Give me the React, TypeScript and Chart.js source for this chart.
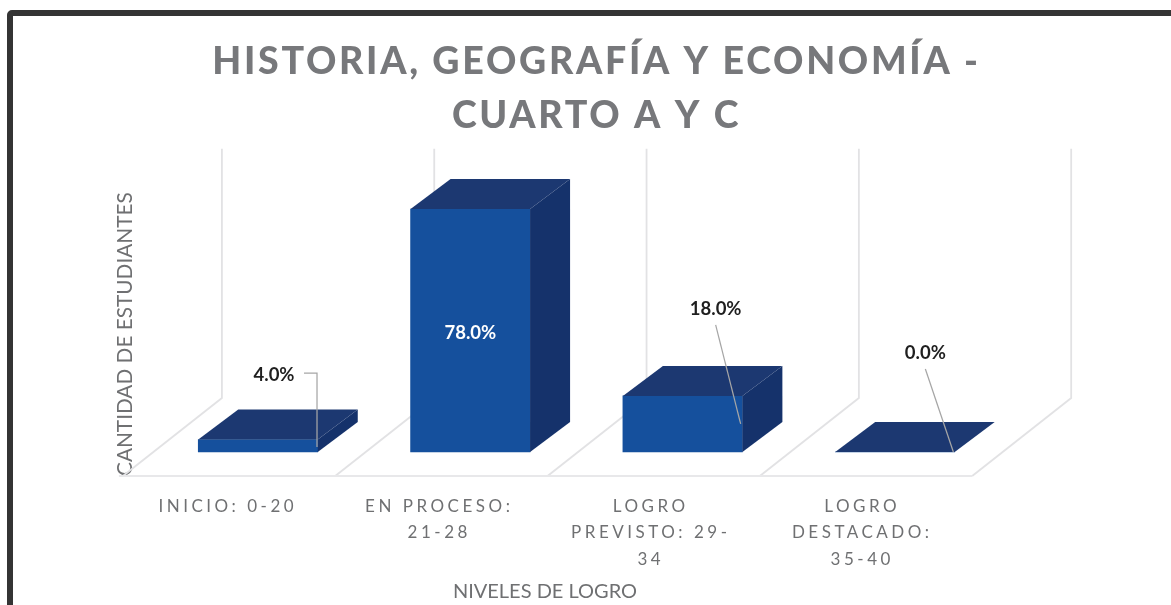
import React, { useEffect, useRef } from "react";
import { Chart, registerables } from "chart.js";

Chart.register(...registerables);

const titleLines = ["HISTORIA, GEOGRAFÍA Y ECONOMÍA -", "CUARTO A Y C"];
const categoryLabels: (string | string[])[] = [
  "INICIO: 0-20",
  ["EN PROCESO:", "21-28"],
  ["LOGRO", "PREVISTO: 29-", "34"],
  ["LOGRO", "DESTACADO:", "35-40"],
];
const percentages = [4.0, 78.0, 18.0, 0.0];
const xAxisTitle = "NIVELES DE LOGRO";
const yAxisTitle = "CANTIDAD DE ESTUDIANTES";

const DEPTH_X = 40;
const DEPTH_Y = 30;
const FONT = "Lato, Carlito, sans-serif";

// 3D look: top and side faces, walls and floor, all derived from the scales.
const threeD = {
  id: "threeD",
  beforeDraw(chart: any) {
    const { ctx } = chart;
    if (!chart.$spaced) {
      chart.$spaced = true;
      const spaced = (obj: any, key: string, px: string) => {
        const orig = obj[key];
        obj[key] = function (...a: any[]) {
          ctx.letterSpacing = px;
          orig.apply(this, a);
          ctx.letterSpacing = "0px";
        };
      };
      spaced(chart.titleBlock, "draw", "2.7px");
      spaced(chart.scales.x, "drawLabels", "3.5px");
    }
    ctx.save();
    ctx.fillStyle = "#ffffff";
    ctx.fillRect(0, 0, chart.width, chart.height);
    ctx.strokeStyle = "#343434";
    ctx.lineWidth = 6;
    ctx.beginPath();
    ctx.roundRect(10, 13, 1500, 1000, 2);
    ctx.stroke();
    ctx.restore();
  },
  beforeDatasetsDraw(chart: any) {
    const { ctx, scales } = chart;
    const bandX = scales.x2;
    const y = scales.y;
    const zeroY = y.getPixelForValue(0);
    const backY = zeroY - 54;
    const frontY = zeroY + 24;
    const topY = y.getPixelForValue(80) - 54;
    const floorDX = 99;
    ctx.save();
    ctx.lineWidth = 1.8;
    for (let i = 0; i <= categoryLabels.length; i++) {
      const wx = bandX.getPixelForValue(i - 0.17);
      ctx.strokeStyle = "#e2e2e4";
      ctx.beginPath();
      ctx.moveTo(wx, topY);
      ctx.lineTo(wx, backY);
      ctx.lineTo(wx - floorDX, frontY);
      ctx.stroke();
    }
    ctx.strokeStyle = "#e8e8ea";
    ctx.beginPath();
    ctx.moveTo(bandX.getPixelForValue(-0.17) - floorDX - 4, frontY);
    ctx.lineTo(bandX.getPixelForValue(categoryLabels.length - 0.17) - floorDX, frontY);
    ctx.stroke();
    ctx.restore();
  },
  afterDatasetsDraw(chart: any) {
    const { ctx } = chart;
    const bars = chart.getDatasetMeta(0).data;
    ctx.save();
    bars.forEach((b: any) => {
      const l = b.x - b.width / 2;
      const r = b.x + b.width / 2;
      ctx.fillStyle = "#15326b";
      ctx.beginPath();
      ctx.moveTo(r, b.y);
      ctx.lineTo(r + DEPTH_X, b.y - DEPTH_Y);
      ctx.lineTo(r + DEPTH_X, b.base - DEPTH_Y);
      ctx.lineTo(r, b.base);
      ctx.closePath();
      ctx.fill();
      ctx.fillStyle = "#1c3871";
      ctx.beginPath();
      ctx.moveTo(l, b.y);
      ctx.lineTo(l + DEPTH_X, b.y - DEPTH_Y);
      ctx.lineTo(r + DEPTH_X, b.y - DEPTH_Y);
      ctx.lineTo(r, b.y);
      ctx.closePath();
      ctx.fill();
    });

    // leader lines and value labels, placed relative to each bar
    const labelOffsets = [
      { dx: 16, dy: -64.5, leader: [[46, -66.5], [59, -66.5], [59, 7.5]] },
      { dx: 0, dy: 124, leader: [] },
      { dx: 33, dy: -87, leader: [[33, -71], [58, 28]] },
      { dx: 30.4, dy: -99, leader: [[30.4, -83], [58.4, 0]] },
    ];
    bars.forEach((b: any, i: number) => {
      const o = labelOffsets[i];
      if (o.leader.length) {
        ctx.strokeStyle = "#a6a6a6";
        ctx.lineWidth = 1.25;
        ctx.beginPath();
        o.leader.forEach((p: number[], k: number) => {
          if (k === 0) ctx.moveTo(b.x + p[0], b.y + p[1]);
          else ctx.lineTo(b.x + p[0], b.y + p[1]);
        });
        ctx.stroke();
      }
      ctx.font = `bold 18.5px ${FONT}`;
      ctx.textAlign = "center";
      ctx.textBaseline = "middle";
      ctx.fillStyle = i === 1 ? "#ffffff" : "#1f1f1f";
      ctx.fillText(`${percentages[i].toFixed(1)}%`, b.x + o.dx, b.y + o.dy);
    });
    ctx.restore();
  },
};

export default function App() {
  const ref = useRef<HTMLCanvasElement>(null);
  useEffect(() => {
    const chart = new Chart(ref.current as HTMLCanvasElement, {
      type: "bar",
      data: {
        datasets: [
          {
            label: "Niveles de logro",
            xAxisID: "x2",
            yAxisID: "y",
            data: percentages.map((v, i) => ({ x: i, y: v })),
            backgroundColor: "#15509d",
            borderWidth: 0,
            barThickness: 119.5,
          },
        ],
      },
      plugins: [threeD],
      options: {
        responsive: false,
        animation: false,
        layout: { padding: { left: 22, right: 0, top: 0, bottom: 0 } },
        plugins: {
          legend: { display: false },
          tooltip: { enabled: false },
          title: {
            display: true,
            text: titleLines,
            color: "#77787b",
            font: { family: FONT, size: 37.5, weight: "900", lineHeight: 1.44 },
            padding: { top: 35, bottom: 7 },
          },
        },
        scales: {
          x: {
            type: "category",
            labels: categoryLabels as any,
            offset: true,
            position: "bottom",
            grid: { display: false },
            border: { display: false },
            ticks: {
              color: "#6f7072",
              autoSkip: false,
              maxRotation: 0,
              minRotation: 0,
              padding: 9,
              font: { family: FONT, size: 17, lineHeight: 1.56 },
            },
            title: {
              display: true,
              text: xAxisTitle,
              color: "#6f7072",
              font: { family: FONT, size: 20, lineHeight: 1.2 },
              padding: { top: 0, bottom: 1 },
            },
            afterFit(s: any) {
              s.height = 129;
            },
          },
          x2: {
            type: "linear",
            display: false,
            offset: false,
            min: -0.6406,
            max: 3.344,
          },
          y: {
            type: "linear",
            position: "left",
            min: -7.7,
            max: 96.95,
            grid: { display: false },
            border: { display: false },
            ticks: { display: false },
            title: {
              display: true,
              text: yAxisTitle,
              align: "start",
              color: "#6f7072",
              font: { family: FONT, size: 20.8, lineHeight: 1.2 },
              padding: { top: 91, bottom: 0 },
            },
            afterFit(s: any) {
              s.width = 100;
            },
          },
          yr: {
            type: "linear",
            position: "right",
            grid: { display: false },
            border: { display: false },
            ticks: { display: false },
            afterFit(s: any) {
              s.width = 203;
            },
          },
        },
      } as any,
    });
    return () => chart.destroy();
  }, []);
  return (
    <div style={{ position: "fixed", left: 0, top: 0, width: 1171, height: 605, overflow: "hidden" }}>
      <canvas ref={ref} width={1171} height={605} style={{ display: "block" }} />
    </div>
  );
}
